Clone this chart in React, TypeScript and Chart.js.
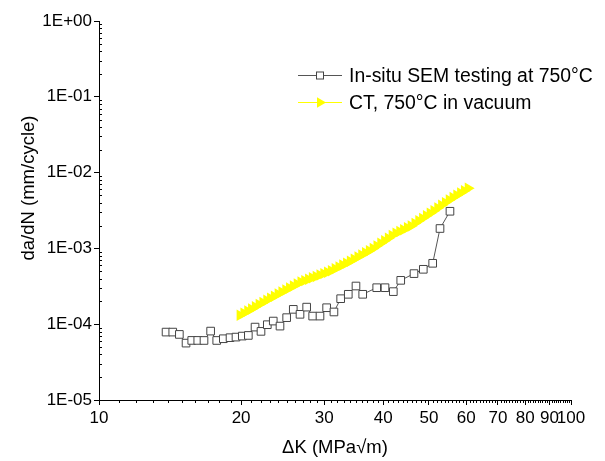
import React, { useEffect, useRef } from "react";
import { Chart, registerables } from "chart.js";

Chart.register(...registerables);

// ---- data ----
const semK = [13.87, 14.33, 14.80, 15.29, 15.72, 16.19, 16.69, 17.24, 17.76, 18.34, 18.95, 19.51, 20.12, 20.72, 21.41, 22.04, 22.73, 23.40, 24.18, 24.98, 25.80, 26.66, 27.54, 28.36, 29.39, 30.36, 31.46, 32.51, 33.74, 35.03, 36.20, 38.76, 40.36, 42.03, 43.58, 46.49, 48.65, 50.93, 52.78, 55.41];
const semRate = [7.87e-5, 7.87e-5, 7.33e-5, 5.63e-5, 6.11e-5, 6.11e-5, 6.10e-5, 8.11e-5, 6.10e-5, 6.43e-5, 6.64e-5, 6.76e-5, 6.97e-5, 7.11e-5, 9.16e-5, 8.04e-5, 9.85e-5, 1.10e-4, 9.44e-5, 1.22e-4, 1.57e-4, 1.35e-4, 1.68e-4, 1.28e-4, 1.28e-4, 1.65e-4, 1.45e-4, 2.17e-4, 2.48e-4, 3.19e-4, 2.48e-4, 3.03e-4, 3.03e-4, 2.69e-4, 3.79e-4, 4.65e-4, 5.30e-4, 6.36e-4, 1.83e-3, 3.09e-3];

const ctK = [19.89, 20.26, 20.64, 21.03, 21.42, 21.82, 22.23, 22.65, 23.07, 23.50, 23.94, 24.39, 24.85, 25.31, 25.79, 26.27, 26.76, 27.26, 27.77, 28.29, 28.82, 29.36, 29.91, 30.47, 31.04, 31.62, 32.21, 32.81, 33.43, 34.05, 34.69, 35.34, 36.00, 36.67, 37.36, 38.06, 38.77, 39.50, 40.24, 40.99, 41.76, 42.54, 43.34, 44.15, 44.98, 45.82, 46.68, 47.55, 48.44, 49.35, 50.27, 51.21, 52.17, 53.15, 54.14, 55.16, 56.19, 57.24, 58.31, 59.40, 60.52];
const ctRate = [1.31e-4, 1.40e-4, 1.49e-4, 1.59e-4, 1.70e-4, 1.82e-4, 1.94e-4, 2.07e-4, 2.21e-4, 2.34e-4, 2.50e-4, 2.66e-4, 2.82e-4, 3.00e-4, 3.20e-4, 3.40e-4, 3.60e-4, 3.76e-4, 3.92e-4, 4.09e-4, 4.27e-4, 4.45e-4, 4.65e-4, 4.85e-4, 5.08e-4, 5.38e-4, 5.70e-4, 6.04e-4, 6.39e-4, 6.77e-4, 7.22e-4, 7.70e-4, 8.21e-4, 8.75e-4, 9.32e-4, 1.00e-3, 1.08e-3, 1.17e-3, 1.26e-3, 1.36e-3, 1.48e-3, 1.59e-3, 1.67e-3, 1.76e-3, 1.87e-3, 1.98e-3, 2.14e-3, 2.31e-3, 2.49e-3, 2.70e-3, 2.91e-3, 3.14e-3, 3.41e-3, 3.70e-3, 4.02e-3, 4.36e-3, 4.69e-3, 5.03e-3, 5.38e-3, 5.78e-3, 6.22e-3];

const xTickValues = [10, 20, 30, 40, 50, 60, 70, 80, 90, 100];
const yTickValues = [1e-5, 1e-4, 1e-3, 1e-2, 1e-1, 1];
const xMinorTicks = [11, 12, 13, 14, 15, 16, 17, 18, 19, 21, 22, 23, 24, 25, 26, 27, 28, 29, 31, 32, 33, 34, 35, 36, 37, 38, 39, 41, 42, 43, 44, 45, 46, 47, 48, 49, 51, 52, 53, 54, 55, 56, 57, 58, 59, 61, 62, 63, 64, 65, 66, 67, 68, 69, 71, 72, 73, 74, 75, 76, 77, 78, 79, 81, 82, 83, 84, 85, 86, 87, 88, 89, 91, 92, 93, 94, 95, 96, 97, 98, 99];
const yMinorMantissas = [2, 3, 4, 5, 6, 7, 8, 9];

const semLabel = "In-situ SEM testing at 750°C";
const ctLabel = "CT, 750°C in vacuum";
const xTitle = "ΔK (MPa√m)";
const yTitle = "da/dN (mm/cycle)";

const FONT = "'Liberation Sans', Arial, sans-serif";

function fmtE(v: number) {
  const e = Math.round(Math.log10(v));
  return "1E" + (e < 0 ? "-" : "+") + String(Math.abs(e)).padStart(2, "0");
}

const decorPlugin = {
  id: "decor",
  afterDraw(chart: any) {
    const ctx = chart.ctx;
    const xs = chart.scales.x;
    const ys = chart.scales.y;
    const area = chart.chartArea;
    ctx.save();
    // minor ticks
    ctx.strokeStyle = "#000";
    ctx.lineWidth = 1;
    ctx.beginPath();
    for (const v of xMinorTicks) {
      const px = Math.round(xs.getPixelForValue(v)) + 0.5;
      ctx.moveTo(px, area.bottom);
      ctx.lineTo(px, area.bottom + 3);
    }
    for (let d = -5; d < 0; d++) {
      for (const m of yMinorMantissas) {
        const py = Math.round(ys.getPixelForValue(m * Math.pow(10, d))) + 0.5;
        ctx.moveTo(area.left, py);
        ctx.lineTo(area.left + 3, py);
      }
    }
    ctx.stroke();

    // axis titles
    ctx.fillStyle = "#000";
    ctx.font = `18.5px ${FONT}`;
    ctx.textAlign = "center";
    ctx.textBaseline = "middle";
    ctx.fillText(xTitle, (area.left + area.right) / 2, 448);
    ctx.save();
    ctx.translate(29, 188);
    ctx.rotate(-Math.PI / 2);
    ctx.fillText(yTitle, 0, 0);
    ctx.restore();

    // legend
    const lx0 = 298, lx1 = 342, mx = 320, tx = 349;
    const r1 = 75.5, r2 = 102.5;
    ctx.lineWidth = 1;
    ctx.strokeStyle = "#555";
    ctx.beginPath();
    ctx.moveTo(lx0, r1);
    ctx.lineTo(lx1, r1);
    ctx.stroke();
    ctx.fillStyle = "#fff";
    ctx.fillRect(mx - 3.5, r1 - 3.5, 7, 7);
    ctx.strokeStyle = "#444";
    ctx.strokeRect(mx - 3.5, r1 - 3.5, 7, 7);

    ctx.strokeStyle = "#ffff00";
    ctx.beginPath();
    ctx.moveTo(lx0, r2);
    ctx.lineTo(lx1, r2);
    ctx.stroke();
    ctx.fillStyle = "#ffff00";
    const r = 6;
    ctx.beginPath();
    ctx.moveTo(mx + r, r2);
    ctx.lineTo(mx - 0.5 * r, r2 + 0.866 * r);
    ctx.lineTo(mx - 0.5 * r, r2 - 0.866 * r);
    ctx.closePath();
    ctx.fill();

    ctx.fillStyle = "#000";
    ctx.font = `19.4px ${FONT}`;
    ctx.textAlign = "left";
    ctx.textBaseline = "middle";
    ctx.fillText(semLabel, tx, r1 + 1);
    ctx.fillText(ctLabel, tx, r2 + 1);
    ctx.restore();
  },
};

export default function App() {
  const ref = useRef<HTMLCanvasElement>(null);
  useEffect(() => {
    if (!ref.current) return;
    const chart = new Chart(ref.current, {
      type: "line",
      data: {
        datasets: [
          {
            label: semLabel,
            data: semK.map((k, i) => ({ x: k, y: semRate[i] })),
            borderColor: "#555",
            borderWidth: 1,
            pointStyle: "rect",
            pointRadius: 5.4,
            pointBorderWidth: 1,
            pointBorderColor: "#444",
            pointBackgroundColor: "#fff",
            order: 0,
          },
          {
            label: ctLabel,
            data: ctK.map((k, i) => ({ x: k, y: ctRate[i] })),
            borderColor: "#ffff00",
            borderWidth: 1,
            pointStyle: "triangle",
            rotation: 90,
            pointRadius: 6.6,
            pointBorderWidth: 0,
            pointBorderColor: "#ffff00",
            pointBackgroundColor: "#ffff00",
            order: 1,
          },
        ],
      },
      options: {
        responsive: false,
        maintainAspectRatio: false,
        devicePixelRatio: 1,
        animation: false,
        layout: { padding: { top: 21, right: 34, left: 0, bottom: 0 } },
        plugins: { legend: { display: false }, tooltip: { enabled: false } },
        scales: {
          x: {
            type: "logarithmic",
            min: 10,
            max: 100,
            afterBuildTicks: (s: any) => {
              s.ticks = xTickValues.map((v) => ({ value: v }));
            },
            afterFit: (s: any) => {
              s.height = 61;
            },
            ticks: {
              autoSkip: false,
              maxRotation: 0,
              minRotation: 0,
              padding: 3,
              color: "#000",
              font: { family: FONT, size: 17 },
              callback: (v: any) => String(v),
            },
            grid: { drawOnChartArea: false, drawTicks: true, tickLength: 5, tickColor: "#000" },
            border: { display: true, color: "#000", width: 1 },
          },
          y: {
            type: "logarithmic",
            min: 1e-5,
            max: 1,
            afterBuildTicks: (s: any) => {
              s.ticks = yTickValues.map((v) => ({ value: v }));
            },
            afterFit: (s: any) => {
              s.width = 99;
            },
            ticks: {
              autoSkip: false,
              padding: 2,
              color: "#000",
              font: { family: FONT, size: 17 },
              callback: (v: any) => fmtE(Number(v)),
            },
            grid: { drawOnChartArea: false, drawTicks: true, tickLength: 5, tickColor: "#000" },
            border: { display: true, color: "#000", width: 1 },
          },
        },
      },
      plugins: [decorPlugin],
    } as any);
    return () => chart.destroy();
  }, []);
  return (
    <div style={{ position: "absolute", left: 0, top: 0, width: 605, height: 461, background: "#fff" }}>
      <canvas ref={ref} width={605} height={461} style={{ display: "block" }} />
    </div>
  );
}
